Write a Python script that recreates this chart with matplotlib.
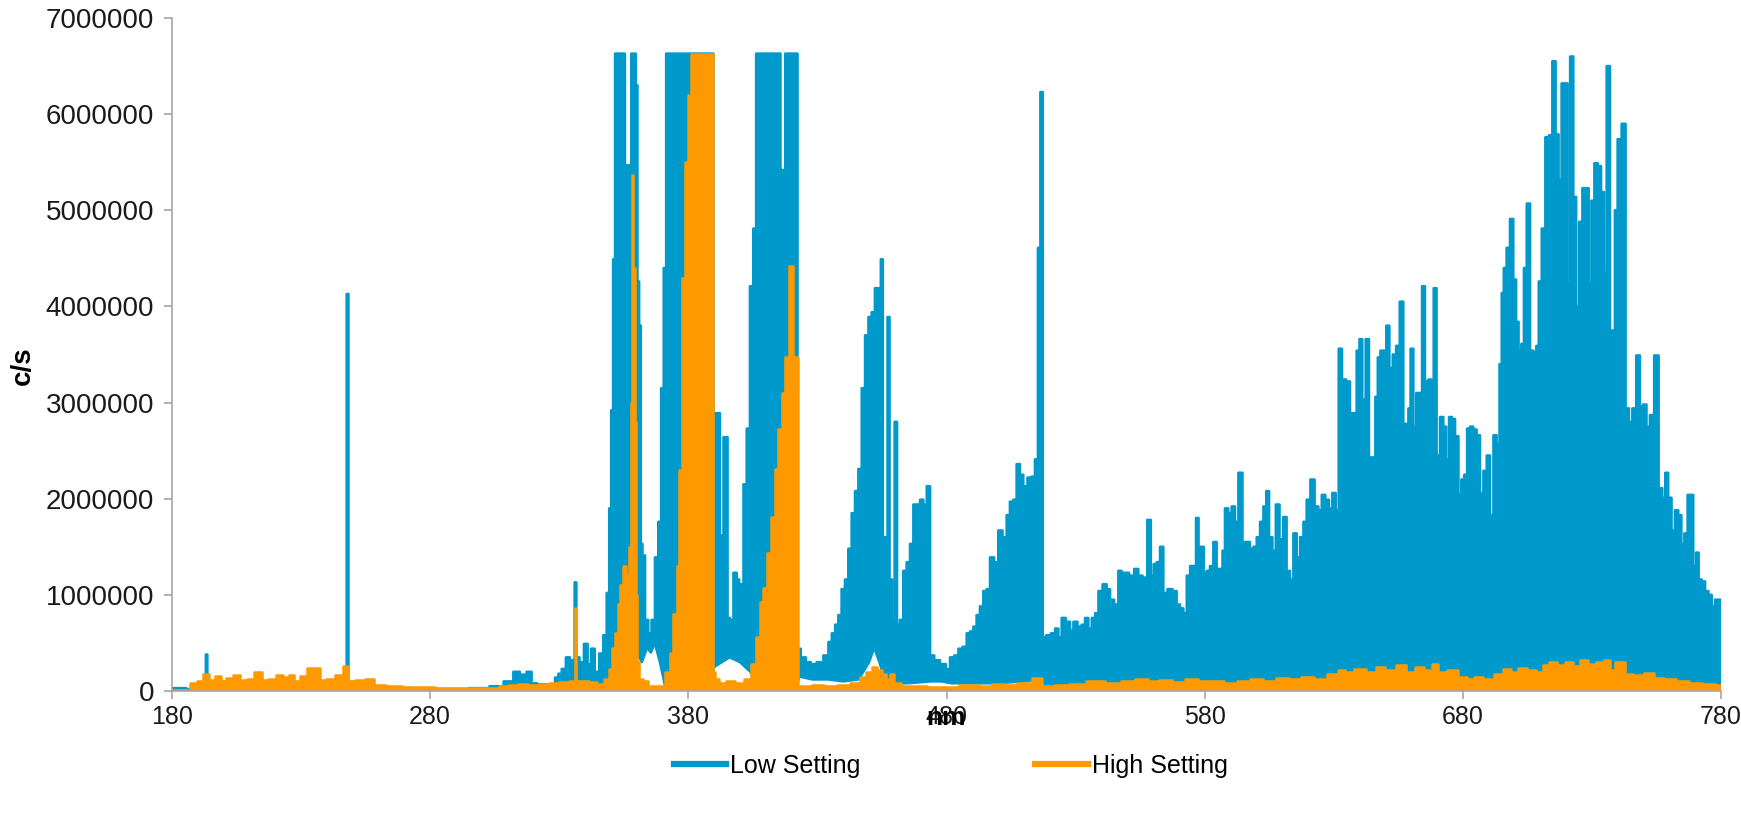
import numpy as np
import matplotlib
matplotlib.use("Agg")
import matplotlib.pyplot as plt
from matplotlib.lines import Line2D

plt.rcParams['font.family'] = ['Liberation Sans', 'DejaVu Sans']

# ---------------- data (values in millions of c/s) ----------------
# Low Setting: upper envelope of the dense spectrum trace
low_nm = [180, 184, 187, 190, 192.8, 193.4, 194.0, 197, 200, 204, 208, 212, 216, 220, 224, 228, 232, 236, 240,
          244, 247.3, 248.0, 248.7, 252, 260, 270, 280, 290, 300, 306, 310.9, 313.5, 316, 318.7, 319.9, 323,
          327.7, 329.0, 330.3, 331.6, 333.5, 334.8, 335.6, 336.3, 337.0, 338.7, 340.4, 341.6, 343.0, 344.5,
          346.4, 347.7, 349.0, 349.7, 350.5, 351.2, 352.0, 353, 354, 355.0, 355.9, 356.7, 357.5, 358.3,
          359.3, 360.0, 360.6, 361.3, 361.9, 362.6, 363.9, 365.1, 366.4, 367.7, 369.0, 369.9, 371.0, 371.8,
          373, 375, 377, 379, 379.8, 380.4, 382, 384, 386, 388, 389.4, 390.1, 391.0, 392.0, 392.5, 393.0,
          394.2, 394.9, 395.5, 396.8, 398.1, 399.4, 400.0, 400.7, 402.0, 403.2, 404.5, 405.8, 406.7, 408, 410,
          412, 414, 415.4, 416.0, 416.6, 417.2, 417.8, 419, 421, 422.0, 422.6, 424.5, 426.5, 428.4, 431.0,
          433.6, 434.9, 436.2, 437.5, 438.7, 440.0, 441.3, 442.6, 443.9, 445.2, 446.5, 447.8, 449.1, 450.4,
          451.6, 452.9, 454.2, 454.9, 455.8, 456.8, 457.5, 458.4, 459.4, 460.4, 461.3, 462.6, 463.9, 465.2,
          466.5, 467.8, 469.1, 470.4, 471.7, 473.0, 474.3, 476.2, 478.8, 480.7, 482.0, 484.0, 485.2, 487.2,
          488.4, 489.8, 491.0, 492.3, 493.6, 494.9, 496.2, 497.5, 499.4, 500.7, 502.7, 503.9, 505.2, 506.5,
          507.8, 509.1, 510.4, 512.3, 513.6, 514.9, 515.9, 516.8, 517.8, 519.4, 521.4, 522.7, 524.0, 525.2,
          527.2, 528.5, 529.8, 531.7, 533.0, 534.3, 535.6, 536.9, 538.2, 539.5, 541.4, 542.7, 544.0, 545.9,
          547.2, 548.5, 549.8, 551.7, 553.7, 554.9, 556.9, 558.6, 559.7, 560.8, 562.0, 563.4, 564.6, 566.6,
          568.5, 569.8, 571.1, 572.4, 573.7, 575.0, 576.2, 577.1, 578.2, 579.2, 580.1, 581.4, 582.7, 584.0,
          585.3, 586.6, 587.2, 588.5, 589.8, 591.1, 592.4, 593.7, 595.6, 596.9, 598.2, 599.5, 600.8, 602.1,
          603.4, 604.3, 605.6, 606.9, 608.2, 609.8, 611.1, 612.4, 613.7, 615.0, 616.3, 617.6, 618.9, 620.1,
          621.8, 623.4, 624.7, 626.0, 627.5, 628.8, 630.1, 631.4, 632.4, 634.0, 635.6, 637.0, 638.2, 639.5,
          640.4, 641.7, 643.0, 644.3, 645.6, 646.6, 647.5, 648.6, 649.8, 650.9, 652.2, 653.5, 654.8, 656.3,
          657.6, 658.5, 659.3, 660.2, 661.5, 662.4, 663.7, 664.7, 666.0, 667.3, 668.2, 669.2, 670.5, 671.8,
          673.1, 674.0, 675.3, 676.3, 677.7, 678.9, 679.9, 681.2, 682.1, 683.4, 684.7, 686.0, 687.3, 688.6,
          689.9, 691.2, 692.5, 693.7, 694.7, 695.4, 696.3, 697.6, 698.9, 700.2, 701.1, 702.1, 703.2, 704.1,
          705.4, 706.7, 708.0, 708.9, 709.9, 711.2, 712.7, 714.0, 715.3, 716.6, 717.6, 718.9, 720.2, 720.9,
          722.2, 723.4, 724.4, 725.7, 726.9, 728.2, 729.3, 730.3, 731.6, 732.9, 734.2, 735.1, 736.3, 737.7,
          738.5, 739.3, 740.6, 742.4, 743.7, 745.0, 746.3, 748.0, 749.2, 750.5, 751.8, 753.1, 755.1, 756.6,
          757.9, 758.9, 760.2, 761.5, 762.8, 764.1, 765.2, 766.4, 767.7, 768.6, 769.9, 770.8, 771.9, 773.2,
          774.5, 775.8, 777.0, 778.3, 780]
low_top = [0.03, 0.03, 0.02, 0.03, 0.03, 0.38, 0.05, 0.04, 0.05, 0.06, 0.05, 0.06, 0.04, 0.06, 0.05, 0.06, 0.04,
           0.06, 0.05, 0.06, 0.07, 4.13, 0.05, 0.03, 0.02, 0.03, 0.02, 0.02, 0.03, 0.05, 0.1, 0.2, 0.17, 0.2,
           0.08, 0.07, 0.07, 0.14, 0.18, 0.23, 0.35, 0.32, 0.32, 1.13, 0.35, 0.3, 0.49, 0.28, 0.44, 0.2, 0.39,
           0.58, 1.02, 1.9, 2.92, 4.49, 6.63, 6.63, 6.63, 6.63, 5.47, 1.3, 5.47, 6.63, 6.63, 6.3, 4.26,
           3.8, 1.53, 1.41, 0.74, 0.6, 0.74, 1.39, 1.76, 3.15, 4.4, 6.63, 6.63, 6.63, 6.63, 6.63, 5.1, 6.63,
           6.63, 6.63, 6.63, 6.63, 6.63, 0.6, 2.89, 2.89, 1.62, 1.02, 2.64, 2.64, 0.76, 0.74, 1.23, 1.16, 0.99,
           1.11, 2.15, 2.73, 4.21, 4.81, 6.63, 6.63, 6.63, 6.63, 6.63, 6.63, 5.42, 4.45, 5.42, 6.63, 6.63, 6.63,
           6.63, 0.44, 0.35, 0.3, 0.28, 0.3, 0.37, 0.51, 0.6, 0.69, 0.79, 1.06, 1.16, 1.48, 1.85, 2.08, 2.31,
           3.15, 3.7, 3.89, 3.94, 4.19, 4.19, 4.49, 1.6, 1.3, 3.89, 1.16, 0.74, 2.8, 0.69, 0.74, 1.25, 1.34,
           1.53, 1.94, 1.94, 1.99, 1.94, 2.13, 0.37, 0.32, 0.28, 0.23, 0.35, 0.37, 0.44, 0.46, 0.6, 0.62, 0.67,
           0.79, 0.88, 1.04, 1.06, 1.39, 1.34, 1.67, 1.6, 1.83, 1.97, 1.99, 2.36, 2.25, 2.13, 2.22, 2.23, 2.41,
           4.61, 6.23, 0.56, 0.58, 0.6, 0.65, 0.56, 0.76, 0.72, 0.63, 0.72, 0.67, 0.69, 0.76, 0.65, 0.76, 0.81,
           1.04, 1.11, 1.06, 0.95, 0.9, 1.25, 1.23, 1.23, 1.2, 1.27, 1.2, 1.18, 1.78, 1.2, 1.32, 1.34, 1.5,
           1.02, 1.06, 1.04, 0.9, 0.86, 0.81, 1.2, 1.3, 1.3, 1.8, 1.5, 1.5, 1.23, 1.25, 1.3, 1.55, 1.27, 1.27,
           1.46, 1.9, 1.85, 1.92, 1.76, 2.27, 1.55, 1.55, 1.48, 1.5, 1.6, 1.76, 1.92, 2.08, 1.6, 1.46, 1.94,
           1.58, 1.81, 1.25, 1.16, 1.64, 1.39, 1.6, 1.76, 1.99, 2.2, 1.92, 1.88, 2.04, 1.99, 1.9, 2.06, 1.88,
           3.56, 3.24, 3.22, 2.89, 2.89, 3.54, 3.66, 3.03, 3.66, 2.43, 2.43, 3.06, 3.47, 3.54, 3.54, 3.8, 3.36,
           3.5, 3.59, 4.05, 2.78, 2.52, 2.94, 3.56, 2.75, 3.1, 3.1, 4.21, 3.22, 3.24, 2.75, 4.19, 2.45, 2.85,
           2.75, 2.41, 2.85, 2.83, 2.65, 2.04, 2.2, 2.25, 2.73, 2.75, 2.72, 2.66, 2.06, 2.29, 2.45, 1.83, 2.66,
           2.57, 3.4, 4.14, 4.4, 4.61, 4.91, 4.28, 3.84, 3.54, 3.61, 4.4, 5.07, 3.54, 3.52, 3.59, 4.26, 4.81,
           5.76, 5.78, 6.55, 5.79, 5.32, 6.32, 6.32, 4.24, 6.6, 5.14, 4.0, 4.88, 5.23, 5.23, 4.24, 5.1, 5.49,
           5.46, 5.19, 4.35, 6.5, 3.75, 3.7, 5.0, 5.74, 5.9, 2.94, 2.8, 2.94, 3.49, 2.96, 2.98, 2.75, 2.87,
           3.49, 2.11, 2.01, 2.27, 2.01, 1.67, 1.88, 1.83, 1.53, 1.64, 2.04, 2.04, 1.3, 1.44, 1.16, 1.14, 1.04,
           1.0, 0.88, 0.95, 0.95]
# Low Setting: lower envelope of the trace
low_base_nm = [180, 330, 345, 350, 353, 355, 356.7, 358.5, 360, 362, 364, 365.5, 367, 369, 371, 388, 390, 393,
               396, 400, 404, 407, 422, 423, 428, 434, 440, 446, 450, 452, 454, 456, 460, 465, 474, 478, 482,
               490, 500, 510, 516, 518, 530, 550, 580, 620, 780]
low_base = [0.0, 0.0, 0.05, 0.1, 0.3, 0.6, 1.2, 0.8, 0.4, 0.3, 0.45, 0.4, 0.5, 0.3, 0.05, 0.05, 0.25, 0.3,
            0.35, 0.3, 0.2, 0.05, 0.05, 0.15, 0.12, 0.12, 0.1, 0.12, 0.3, 0.45, 0.3, 0.12, 0.08, 0.08, 0.1, 0.1,
            0.08, 0.08, 0.08, 0.1, 0.12, 0.06, 0.06, 0.06, 0.04, 0.03, 0.02]

# High Setting: upper envelope of the trace
high_nm = [180, 186, 188.2, 190.8, 193.4, 195.4, 197.9, 199.9, 201.8, 205.1, 207.6, 210.2, 213.4, 216.0, 218.6,
           221.8, 224.4, 226.4, 228.3, 230.9, 233.5, 236.7, 238.0, 241.2, 245.1, 247.7, 248.9, 252.8, 256.7,
           259.9, 265.7, 272.2, 278.7, 285.1, 295, 305, 308, 312, 316, 320, 324, 328, 332, 335.6, 336.3, 337.0,
           340, 343, 346, 348.5, 349.7, 351.0, 352.2, 353.3, 354.1, 355.4, 356.5, 357.3, 357.9, 358.4, 359.0,
           359.5, 360.0, 360.6, 361.5, 363, 366, 370, 372, 373.5, 375, 376, 376.8, 378.0, 379.4, 380.4, 381.3,
           383, 385, 387, 389.4, 390.0, 391, 393, 396, 400, 403, 405.2, 407.1, 408.4, 409.7, 411.0, 412.9,
           414.2, 415.5, 416.8, 417.8, 418.9, 419.4, 420.1, 420.7, 422.0, 422.6, 426, 430, 435, 440, 445, 448,
           450, 452, 454, 456, 457.5, 459, 460.5, 464, 470, 475, 480, 490, 495, 500, 505, 510, 516, 518, 525,
           530, 538, 545, 550, 556, 560, 565, 570, 575, 580, 585, 590, 595, 600, 605, 610, 615, 620, 625, 630,
           633, 636, 640, 645, 648, 652, 656, 660, 663, 667, 669, 672, 676, 680, 683, 686, 690, 694, 697, 700,
           703, 707, 710, 712, 715, 718, 721, 724, 727, 730, 733, 736, 738, 740, 742, 744, 748, 752, 756, 760,
           765, 770, 775, 780]
high_top = [0.01, 0.01, 0.08, 0.1, 0.18, 0.11, 0.16, 0.1, 0.14, 0.17, 0.11, 0.13, 0.2, 0.11, 0.13, 0.17, 0.15,
            0.17, 0.1, 0.16, 0.24, 0.24, 0.11, 0.13, 0.17, 0.26, 0.1, 0.11, 0.12, 0.06, 0.055, 0.045, 0.04,
            0.035, 0.03, 0.03, 0.05, 0.06, 0.07, 0.06, 0.07, 0.08, 0.09, 0.1, 0.86, 0.1, 0.1, 0.09, 0.07, 0.12,
            0.23, 0.45, 0.6, 0.9, 1.1, 1.3, 1.2, 1.5, 3.0, 5.37, 4.4, 2.8, 1.0, 0.3, 0.12, 0.1, 0.05, 0.05, 0.2,
            0.4, 0.8, 1.3, 2.3, 4.3, 5.5, 6.2, 6.63, 6.63, 6.63, 6.63, 6.63, 0.2, 0.12, 0.08, 0.1, 0.08, 0.12,
            0.28, 0.56, 0.93, 1.07, 1.44, 1.81, 2.31, 2.73, 3.1, 3.47, 3.47, 4.42, 4.42, 3.47, 3.47, 0.05, 0.05,
            0.06, 0.05, 0.06, 0.08, 0.15, 0.2, 0.25, 0.22, 0.18, 0.12, 0.18, 0.08, 0.05, 0.05, 0.04, 0.04, 0.06,
            0.05, 0.07, 0.06, 0.08, 0.14, 0.05, 0.06, 0.07, 0.1, 0.08, 0.1, 0.12, 0.1, 0.11, 0.09, 0.12, 0.1,
            0.1, 0.08, 0.1, 0.12, 0.1, 0.14, 0.12, 0.15, 0.13, 0.18, 0.22, 0.2, 0.23, 0.2, 0.25, 0.22, 0.27, 0.2,
            0.25, 0.22, 0.28, 0.2, 0.22, 0.15, 0.13, 0.15, 0.12, 0.18, 0.23, 0.2, 0.24, 0.22, 0.2, 0.27, 0.3,
            0.27, 0.3, 0.26, 0.32, 0.28, 0.3, 0.32, 0.22, 0.3, 0.3, 0.18, 0.17, 0.19, 0.14, 0.12, 0.1, 0.08,
            0.07, 0.06]
# High Setting: lower envelope of the trace
high_base_nm = [180, 780]
high_base = [0.0, 0.0]

x_ticks = [180, 280, 380, 480, 580, 680, 780]
y_ticks = [0, 1000000, 2000000, 3000000, 4000000, 5000000, 6000000, 7000000]
series_names = ["Low Setting", "High Setting"]
colors = ["#0099CC", "#FF9900"]


def band(x, top, bx, bottom):
    x = np.asarray(x, float)
    top = np.asarray(top, float) * 1e6
    edges = np.concatenate([[x[0]], (x[:-1] + x[1:]) / 2, [x[-1]]])
    xs = np.repeat(edges, 2)[1:-1]
    ys = np.repeat(top, 2)
    bx = np.asarray(bx, float)[::-1]
    by = np.asarray(bottom, float)[::-1] * 1e6
    return np.concatenate([xs, bx]), np.concatenate([ys, by])


fig = plt.figure(figsize=(17.41, 8.15), dpi=100)
ax = fig.add_axes([172 / 1741, 1 - 691 / 815, (1721 - 172) / 1741, (691 - 18) / 815])

for (xn, yt, bxn, yb), c in zip([(low_nm, low_top, low_base_nm, low_base),
                                  (high_nm, high_top, high_base_nm, high_base)], colors):
    X, Y = band(xn, yt, bxn, yb)
    ax.fill(X, Y, facecolor=c, edgecolor=c, linewidth=1.8, joinstyle='round')

ax.set_xlim(180, 780)
ax.set_ylim(0, 7000000)
ax.set_xticks(x_ticks)
ax.set_xticklabels([str(t) for t in x_ticks])
ax.set_yticks(y_ticks)
ax.set_yticklabels([str(t) for t in y_ticks])

for s in ['top', 'right']:
    ax.spines[s].set_visible(False)
for s in ['left', 'bottom']:
    ax.spines[s].set_color('#A6A6A6')
    ax.spines[s].set_linewidth(1.2)

ax.tick_params(axis='both', direction='out', length=6, width=1.2, color='#A6A6A6')
ax.tick_params(axis='y', labelsize=20, pad=7, labelcolor='#1a1a1a')
ax.tick_params(axis='x', labelsize=18, pad=4, labelcolor='#1a1a1a')

ax.set_xlabel('nm', fontsize=19, fontweight='bold')
ax.xaxis.set_label_coords(0.5, -0.022)
ax.set_ylabel('c/s', fontsize=20, fontweight='bold')
ax.yaxis.set_label_coords(-0.088, 0.483)

handles = [Line2D([0], [0], color=c, lw=4.5) for c in colors]
fig.legend(handles, series_names, loc='center', bbox_to_anchor=(0.546, 0.06), ncol=2, frameon=False,
           fontsize=18, handlelength=2.1, handletextpad=0.15, columnspacing=7.0)

fig.savefig('out.png', dpi=100)
